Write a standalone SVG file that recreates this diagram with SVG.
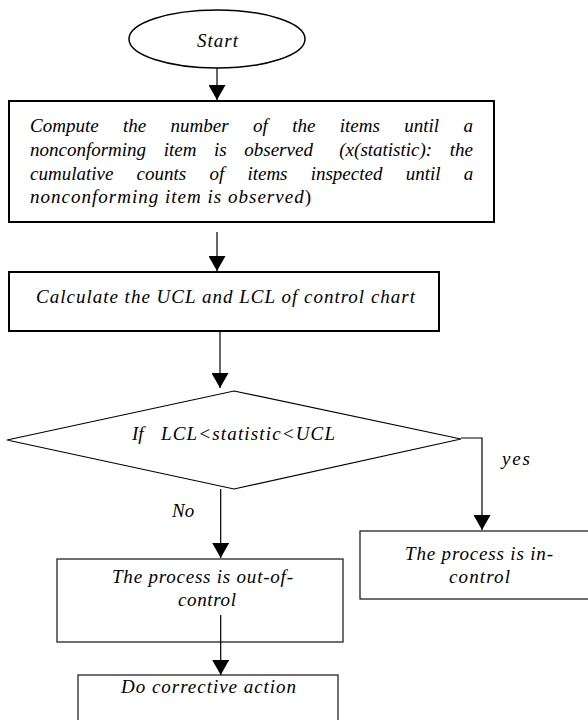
<svg xmlns="http://www.w3.org/2000/svg" width="588" height="720" viewBox="0 0 588 720">
<style>
text{font-family:"Liberation Serif","Times New Roman",serif;font-style:italic;font-size:19px;fill:#000}
.up{font-style:normal}
.thick{fill:#fff;stroke:#000;stroke-width:2}
.thin{fill:#fff;stroke:#222;stroke-width:1.3}
.conn{fill:none;stroke:#000;stroke-width:1.2}
</style>
<defs>
<marker id="ah" markerUnits="userSpaceOnUse" markerWidth="16" markerHeight="17" refX="15" refY="8.5" orient="auto">
<path d="M0,0 L15,8.5 L0,17 z" fill="#000"/>
</marker>
</defs>
<rect width="588" height="720" fill="#fff"/>
<g id="start">
<ellipse cx="217" cy="39" rx="88" ry="29" fill="#fff" stroke="#000" stroke-width="1.5"/>
<text x="197" y="46.5" textLength="41" lengthAdjust="spacing">Start</text>
</g>
<g id="compute">
<rect class="thick" x="9" y="101" width="485" height="121"/>
<text y="132"><tspan x="30">Compute</tspan><tspan x="123">the</tspan><tspan x="170.6">number</tspan><tspan x="253">of</tspan><tspan x="292.2">the</tspan><tspan x="339.8">items</tspan><tspan x="404.3">until</tspan><tspan x="463.5">a</tspan></text>
<text y="155.5"><tspan x="30">nonconforming</tspan><tspan x="163.7">item</tspan><tspan x="214">is</tspan><tspan x="244.3">observed</tspan><tspan x="339.3">(x(statistic):</tspan><tspan x="449.8">the</tspan></text>
<text y="179.5"><tspan x="30">cumulative</tspan><tspan x="136.6">counts</tspan><tspan x="209.4">of</tspan><tspan x="247.4">items</tspan><tspan x="310.7">inspected</tspan><tspan x="405.7">until</tspan><tspan x="463.7">a</tspan></text>
<text x="30" y="203" textLength="281" lengthAdjust="spacing">nonconforming item is observed<tspan class="up">)</tspan></text>
</g>
<g id="calculate">
<rect class="thick" x="9" y="272" width="430" height="59"/>
<text x="36" y="303" textLength="379" lengthAdjust="spacing">Calculate the UCL and LCL of control chart</text>
</g>
<g id="decision">
<polygon points="234,391 461,439 234,489 7,440" fill="#fff" stroke="#000" stroke-width="1.2"/>
<text x="132" y="440">If</text>
<text x="161" y="440" textLength="174" lengthAdjust="spacing">LCL&lt;statistic&lt;UCL</text>
</g>
<g id="in-control">
<rect class="thin" x="360" y="531" width="238" height="68"/>
<text x="405" y="560" textLength="148" lengthAdjust="spacing">The process is in-</text>
<text x="449" y="583" textLength="61" lengthAdjust="spacing">control</text>
</g>
<g id="out-of-control">
<rect class="thin" x="57" y="559" width="286" height="83"/>
<text x="112" y="583" textLength="181" lengthAdjust="spacing">The process is out-of-</text>
<text x="178" y="606" textLength="58" lengthAdjust="spacing">control</text>
</g>
<g id="corrective">
<rect class="thin" x="78" y="675" width="260" height="60"/>
<text x="121" y="693" textLength="175" lengthAdjust="spacing">Do corrective action</text>
</g>
<g id="connectors">
<line class="conn" x1="217" y1="68" x2="217" y2="100" marker-end="url(#ah)"/>
<line class="conn" x1="217" y1="232" x2="217" y2="271" marker-end="url(#ah)"/>
<line class="conn" x1="220" y1="331" x2="220" y2="388" marker-end="url(#ah)"/>
<polyline class="conn" points="461,438 482,438 482,530" marker-end="url(#ah)"/>
<line class="conn" x1="220.7" y1="489" x2="220.7" y2="558" marker-end="url(#ah)"/>
<line class="conn" x1="220.7" y1="615" x2="220.7" y2="675" marker-end="url(#ah)"/>
<text x="502" y="465" textLength="28" lengthAdjust="spacing">yes</text>
<text x="172" y="517">No</text>
</g>
</svg>
